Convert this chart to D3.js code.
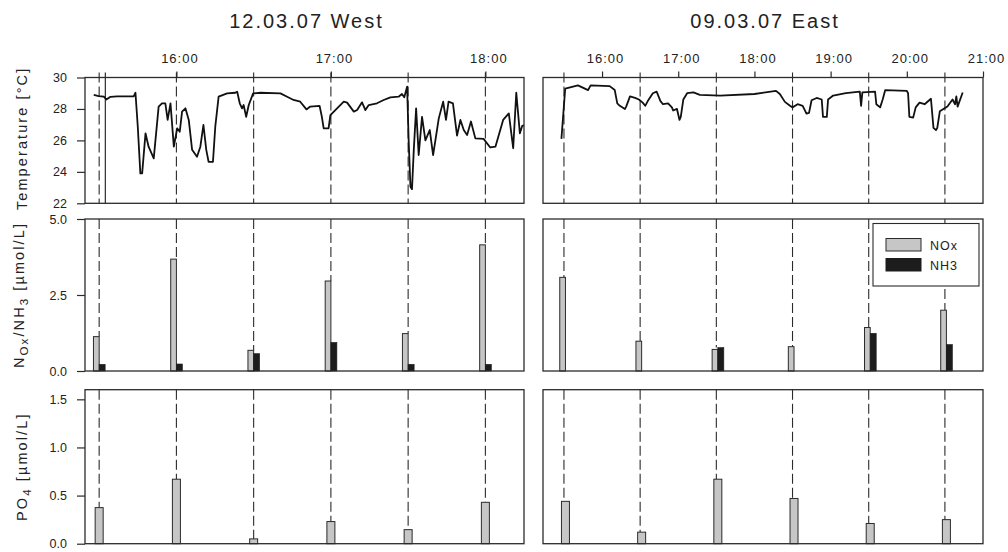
<!DOCTYPE html>
<html>
<head>
<meta charset="utf-8">
<script src="https://cdn.jsdelivr.net/npm/d3@7"></script>
<style>
  body { margin: 0; background: #fff; }
  svg text { font-family: Arial, "Liberation Sans", Helvetica, sans-serif; fill: #222; }
</style>
</head>
<body>
<div id="chart"></div>
<script>
// sampling times (dashed lines) for each transect
const westSamples = ["15:30", "16:00", "16:30", "17:00", "17:30", "18:00"];
const eastSamples = ["15:30", "16:30", "17:30", "18:30", "19:30", "20:30"];

// nutrients [µmol/L]
const westNOx = [1.13, 3.68, 0.68, 2.96, 1.23, 4.15];
const westNH3 = [0.22, 0.23, 0.57, 0.94, 0.22, 0.22];
const westPO4 = [0.375, 0.67, 0.05, 0.23, 0.146, 0.43];
const eastNOx = [3.08, 0.98, 0.71, 0.80, 1.43, 2.0];
const eastNH3 = [null, null, 0.77, null, 1.24, 0.87];
const eastPO4 = [0.44, 0.12, 0.67, 0.47, 0.21, 0.25];

// top axis hour ticks
const westHours = ["16:00", "17:00", "18:00"];
const eastHours = ["16:00", "17:00", "18:00", "19:00", "20:00", "21:00"];

// temperature traces [time, °C]
const westTemp = [
  ["15:27.9", 28.89], ["15:29.8", 28.82], ["15:31.8", 28.78], ["15:32.8", 28.6], ["15:34.4", 28.77],
  ["15:37.0", 28.8], ["15:43.4", 28.8], ["15:44.1", 29.03], ["15:45.0", 26.87], ["15:46.0", 23.9],
  ["15:46.7", 23.9], ["15:48.0", 26.45], ["15:49.2", 25.6], ["15:51.2", 24.86], ["15:53.1", 28.15],
  ["15:54.4", 28.36], ["15:55.7", 28.36], ["15:56.6", 27.3], ["15:57.7", 28.36], ["15:59.0", 25.6],
  ["16:00.3", 26.77], ["16:01.3", 26.55], ["16:02.2", 27.83], ["16:03.5", 28.04], ["16:04.8", 27.3],
  ["16:06.1", 25.4], ["16:08.0", 24.96], ["16:09.3", 25.6], ["16:10.5", 26.98], ["16:11.6", 25.4],
  ["16:12.5", 24.64], ["16:14.2", 24.64], ["16:15.1", 26.87], ["16:16.4", 28.78], ["16:19.7", 28.99],
  ["16:22.9", 29.03], ["16:23.6", 29.1], ["16:24.6", 28.36], ["16:25.5", 28.04], ["16:26.1", 28.25],
  ["16:27.1", 27.5], ["16:28.1", 28.25], ["16:29.8", 28.99], ["16:32.6", 29.03], ["16:40.4", 28.99],
  ["16:43.0", 28.78], ["16:45.5", 28.57], ["16:48.1", 28.46], ["16:50.5", 27.97], ["16:52.0", 28.15],
  ["16:55.6", 28.2], ["16:56.5", 27.5], ["16:57.2", 26.77], ["16:59.1", 26.77], ["16:59.8", 27.6],
  ["17:02.4", 28.04], ["17:05.0", 28.46], ["17:06.3", 28.4], ["17:08.9", 27.83], ["17:10.2", 27.93],
  ["17:12.1", 28.42], ["17:13.4", 27.93], ["17:14.7", 28.25], ["17:17.9", 28.36], ["17:20.5", 28.57],
  ["17:23.1", 28.74], ["17:26.3", 28.78], ["17:27.6", 28.95], ["17:28.5", 28.74], ["17:29.6", 29.42],
  ["17:30.2", 26.0], ["17:30.9", 23.05], ["17:31.5", 22.9], ["17:32.2", 25.4], ["17:33.1", 28.04],
  ["17:34.1", 25.07], ["17:35.4", 27.5], ["17:36.7", 26.0], ["17:38.4", 26.66], ["17:39.7", 25.07],
  ["17:41.9", 27.4], ["17:43.6", 28.46], ["17:44.7", 27.3], ["17:45.7", 28.46], ["17:47.4", 28.36],
  ["17:49.0", 26.3], ["17:50.3", 27.3], ["17:51.6", 26.66], ["17:52.9", 26.34], ["17:54.4", 27.2],
  ["17:56.1", 26.13], ["17:59.3", 26.1], ["18:01.9", 25.55], ["18:03.9", 25.6], ["18:06.9", 27.3],
  ["18:09.1", 27.72], ["18:10.8", 25.5], ["18:12.0", 29.03], ["18:13.4", 26.45], ["18:14.3", 26.92],
  ["18:15.6", 26.98]
];
const eastTemp = [
  ["15:28", 26.1], ["15:31", 29.3], ["15:41", 29.5], ["15:49", 29.2], ["15:51", 29.5],
  ["16:06", 29.45], ["16:10", 29.2], ["16:12", 28.35], ["16:14", 28.2], ["16:18", 28.0],
  ["16:19", 28.15], ["16:22", 28.8], ["16:26", 28.7], ["16:29", 28.6], ["16:32", 28.4],
  ["16:34", 28.2], ["16:36", 28.5], ["16:40", 29.0], ["16:43", 29.1], ["16:46", 28.5],
  ["16:48", 28.3], ["16:52", 28.35], ["16:55", 28.1], ["16:56", 27.9], ["16:59", 28.0],
  ["17:01", 27.3], ["17:02", 27.5], ["17:04", 28.6], ["17:07", 29.0], ["17:12", 29.05],
  ["17:17", 28.9], ["17:33", 28.85], ["18:00", 28.95], ["18:17", 29.15], ["18:20", 28.95],
  ["18:24", 28.45], ["18:28", 28.2], ["18:30", 28.1], ["18:34", 28.3], ["18:38", 28.2],
  ["18:41", 27.7], ["18:43", 27.75], ["18:45", 28.55], ["18:49", 28.7], ["18:53", 28.6],
  ["18:54", 27.5], ["18:57", 27.5], ["18:58", 28.6], ["19:02", 28.85], ["19:12", 29.0],
  ["19:23", 29.1], ["19:24", 28.2], ["19:25", 29.05], ["19:35", 29.1], ["19:36", 28.3],
  ["19:39", 28.1], ["19:41", 28.6], ["19:43", 29.2], ["20:00", 29.15], ["20:01", 29.0],
  ["20:02", 27.5], ["20:05", 27.45], ["20:07", 28.1], ["20:10", 28.4], ["20:14", 28.3],
  ["20:19", 28.65], ["20:21", 26.8], ["20:23", 26.65], ["20:24", 26.8], ["20:26", 27.85],
  ["20:32", 28.15], ["20:36", 28.6], ["20:38", 28.3], ["20:39", 28.8], ["20:40", 28.15],
  ["20:44", 29.05]
];

// odd solid marker line in the west temperature panel
const westMarker = "15:32.4";

const tm = s => { const p = s.split(":"); return +p[0] * 60 + +p[1]; };

const width = 1008, height = 552;
const rows = { temp: [77.5, 203.3], nut: [219, 371], po: [389.7, 543.7] };
const ink = "#2b2b2b";

const panels = [
  { id: "w", title: "12.03.07 West", x0: 85, x1: 524, domain: ["15:24.5", "18:15"], shift: 0,
    samples: westSamples, hours: westHours, temp: westTemp, nox: westNOx, nh3: westNH3, po4: westPO4, yAxis: true },
  { id: "e", title: "09.03.07 East", x0: 543, x1: 983, domain: ["15:13.5", "21:00"], shift: 1.5,
    samples: eastSamples, hours: eastHours, temp: eastTemp, nox: eastNOx, nh3: eastNH3, po4: eastPO4, yAxis: false }
];

const svg = d3.select("#chart").append("svg")
  .attr("width", width)
  .attr("height", height);

const yT = d3.scaleLinear().domain([22, 30]).range([rows.temp[1], rows.temp[0]]);
const yN = d3.scaleLinear().domain([0, 5]).range([rows.nut[1], rows.nut[0]]);
const yP = d3.scaleLinear().domain([0, 1.6]).range([rows.po[1], rows.po[0]]);

panels.forEach(p => {
  const x = d3.scaleLinear().domain(p.domain.map(tm)).range([p.x0, p.x1]);
  const g = svg.append("g");
  const dash = "10,4";

  // title
  g.append("text")
    .attr("x", (p.x0 + p.x1) / 2 + 2)
    .attr("y", 28)
    .attr("text-anchor", "middle")
    .style("font-size", "20px")
    .style("letter-spacing", "2px")
    .text(p.title);

  // top time axis
  const ax = g.append("g")
    .attr("transform", "translate(0," + rows.temp[0] + ")")
    .call(d3.axisTop(x).tickValues(p.hours.map(tm)).tickSize(6).tickPadding(9)
      .tickFormat(m => p.hours.find(h => tm(h) === m)));
  ax.select(".domain").remove();
  ax.selectAll("line").attr("stroke", ink).attr("stroke-width", 1.2);
  ax.selectAll("text").style("font-size", "13px").style("letter-spacing", "1px")
    .attr("dx", 3).attr("font-family", null);

  // temperature clip
  g.append("clipPath").attr("id", "clip-" + p.id)
    .append("rect")
    .attr("x", p.x0).attr("y", rows.temp[0])
    .attr("width", p.x1 - p.x0).attr("height", rows.temp[1] - rows.temp[0]);

  // dashed sampling lines, top panel
  g.selectAll(".sl-t").data(p.samples).join("line")
    .attr("x1", d => x(tm(d))).attr("x2", d => x(tm(d)))
    .attr("y1", rows.temp[0] - 5).attr("y2", rows.temp[1])
    .attr("stroke", ink).attr("stroke-width", 1.1).attr("stroke-dasharray", dash);

  if (p.id === "w") {
    g.append("line")
      .attr("x1", x(tm(westMarker))).attr("x2", x(tm(westMarker)))
      .attr("y1", rows.temp[0] - 5).attr("y2", rows.temp[1])
      .attr("stroke", ink).attr("stroke-width", 1.2);
  }

  // temperature trace
  g.append("path")
    .datum(p.temp)
    .attr("clip-path", "url(#clip-" + p.id + ")")
    .attr("fill", "none")
    .attr("stroke", "#111")
    .attr("stroke-width", 1.8)
    .attr("stroke-linejoin", "round")
    .attr("d", d3.line().x(d => x(tm(d[0]))).y(d => yT(d[1])));

  // dashed sampling lines, nutrient panels (down to bar tops)
  g.selectAll(".sl-n").data(p.samples).join("line")
    .attr("x1", d => x(tm(d))).attr("x2", d => x(tm(d)))
    .attr("y1", rows.nut[0]).attr("y2", (d, i) => yN(Math.max(p.nox[i] || 0, p.nh3[i] || 0)))
    .attr("stroke", ink).attr("stroke-width", 1.1).attr("stroke-dasharray", dash);
  g.selectAll(".sl-p").data(p.samples).join("line")
    .attr("x1", d => x(tm(d))).attr("x2", d => x(tm(d)))
    .attr("y1", rows.po[0]).attr("y2", (d, i) => yP(p.po4[i]))
    .attr("stroke", ink).attr("stroke-width", 1.1).attr("stroke-dasharray", dash);

  // NOx bars
  g.selectAll(".nox").data(p.samples).join("rect")
    .attr("x", d => x(tm(d)) - 5.7 + p.shift)
    .attr("width", 5.7)
    .attr("y", (d, i) => yN(p.nox[i]))
    .attr("height", (d, i) => yN(0) - yN(p.nox[i]))
    .attr("fill", "#c6c6c6").attr("stroke", ink).attr("stroke-width", 1);
  // NH3 bars
  g.selectAll(".nh3").data(p.samples.filter((d, i) => p.nh3[i] != null)).join("rect")
    .attr("x", d => x(tm(d)) + p.shift)
    .attr("width", 6)
    .attr("y", d => yN(p.nh3[p.samples.indexOf(d)]))
    .attr("height", d => yN(0) - yN(p.nh3[p.samples.indexOf(d)]))
    .attr("fill", "#1c1c1c").attr("stroke", "#1c1c1c").attr("stroke-width", 0.6);
  // PO4 bars
  g.selectAll(".po4").data(p.samples).join("rect")
    .attr("x", d => x(tm(d)) - 4 + p.shift)
    .attr("width", 8)
    .attr("y", (d, i) => yP(p.po4[i]))
    .attr("height", (d, i) => yP(0) - yP(p.po4[i]))
    .attr("fill", "#c6c6c6").attr("stroke", ink).attr("stroke-width", 1);

  // frames
  Object.values(rows).forEach(r => {
    g.append("rect")
      .attr("x", p.x0).attr("y", r[0])
      .attr("width", p.x1 - p.x0).attr("height", r[1] - r[0])
      .attr("fill", "none").attr("stroke", ink).attr("stroke-width", 1.3);
  });

  if (p.yAxis) {
    const axes = [
      [yT, [22, 24, 26, 28, 30], d3.format("d")],
      [yN, [0, 2.5, 5], d3.format(".1f")],
      [yP, [0, 0.5, 1, 1.5], d3.format(".1f")]
    ];
    axes.forEach(([s, vals, f]) => {
      const a = g.append("g")
        .attr("transform", "translate(" + p.x0 + ",0)")
        .call(d3.axisLeft(s).tickValues(vals).tickSize(8).tickPadding(10).tickFormat(f));
      a.select(".domain").remove();
      a.selectAll("line").attr("stroke", ink).attr("stroke-width", 1.2);
      a.selectAll("text").style("font-size", "12.5px").attr("font-family", null);
    });

    const lab = (cx, cy) => g.append("text")
      .attr("transform", "translate(" + cx + "," + cy + ") rotate(-90)")
      .attr("text-anchor", "middle")
      .style("font-size", "14.5px")
      .style("letter-spacing", "2.1px");

    lab(27, (rows.temp[0] + rows.temp[1]) / 2 - 2).text("Temperature [°C]");

    const n = lab(24, (rows.nut[0] + rows.nut[1]) / 2);
    n.append("tspan").text("N");
    n.append("tspan").attr("dy", 4).style("font-size", "11.5px").text("Ox");
    n.append("tspan").attr("dy", -4).text("/NH");
    n.append("tspan").attr("dy", 4).style("font-size", "11.5px").text("3");
    n.append("tspan").attr("dy", -4).text(" [µmol/L]");

    const po = lab(27, (rows.po[0] + rows.po[1]) / 2);
    po.append("tspan").text("PO");
    po.append("tspan").attr("dy", 4).style("font-size", "11.5px").text("4");
    po.append("tspan").attr("dy", -4).text(" [µmol/L]");
  }
});

// legend (east nutrient panel)
const leg = svg.append("g").attr("transform", "translate(873,223.5)");
leg.append("rect").attr("width", 106).attr("height", 62.5)
  .attr("fill", "#fff").attr("stroke", ink).attr("stroke-width", 1.1);
const legItems = [["NOx", "#c6c6c6"], ["NH3", "#1c1c1c"]];
legItems.forEach(([name, col], i) => {
  leg.append("rect")
    .attr("x", 13).attr("y", 15 + i * 20)
    .attr("width", 35).attr("height", 12.5)
    .attr("fill", col).attr("stroke", i ? col : ink).attr("stroke-width", 1);
  leg.append("text")
    .attr("x", 57).attr("y", 26 + i * 20.5)
    .style("font-size", "12.5px")
    .style("letter-spacing", "1px")
    .text(name);
});
</script>
</body>
</html>
